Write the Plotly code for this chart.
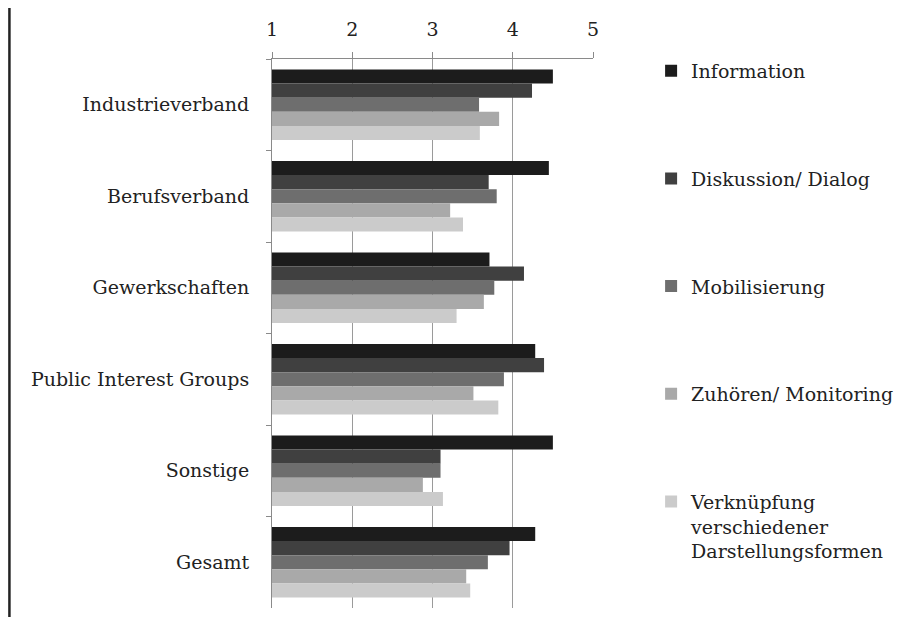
import plotly.graph_objects as go

categories = ["Industrieverband", "Berufsverband", "Gewerkschaften",
              "Public Interest Groups", "Sonstige", "Gesamt"]
series_names = ["Information", "Diskussion/ Dialog", "Mobilisierung",
                "Zuhören/ Monitoring",
                "Verknüpfung<br>verschiedener<br>Darstellungsformen"]
information = [4.50, 4.45, 3.71, 4.28, 4.50, 4.28]
diskussion = [4.24, 3.70, 4.14, 4.39, 3.10, 3.96]
mobilisierung = [3.58, 3.80, 3.77, 3.89, 3.10, 3.69]
zuhoeren = [3.83, 3.22, 3.64, 3.51, 2.88, 3.42]
verknuepfung = [3.59, 3.38, 3.30, 3.82, 3.13, 3.47]
x_ticks = [1, 2, 3, 4, 5]

values = [information, diskussion, mobilisierung, zuhoeren, verknuepfung]
colors = ["#1c1c1c", "#404040", "#6e6e6e", "#a9a9a9", "#cbcbcb"]

FONT = "DejaVu Serif"
fig = go.Figure()
for i, (name, vals, col) in enumerate(zip(series_names, values, colors)):
    fig.add_trace(go.Bar(
        y=categories, x=[v - 1 for v in vals], base=1, name=name,
        orientation="h", marker=dict(color=col, line=dict(width=0)),
        legendgroup=str(i),
    ))

fig.update_layout(
    width=910, height=609,
    margin=dict(l=264, r=325, t=51, b=9),
    paper_bgcolor="white", plot_bgcolor="white",
    barmode="group", bargap=0.23, bargroupgap=0,
    font=dict(family=FONT, size=19, color="#222222"),
    xaxis=dict(
        side="top", range=[1, 5], tickvals=x_ticks,
        showgrid=True, gridcolor="#9a9a9a", gridwidth=1,
        showline=True, linecolor="#8a8a8a", linewidth=1,
        ticks="outside", ticklen=6, tickcolor="#8a8a8a",
        zeroline=False, ticklabelstandoff=8,
    ),
    yaxis=dict(
        autorange="reversed", tickson="boundaries",
        ticks="outside", ticklen=5, tickcolor="#8a8a8a",
        showline=True, linecolor="#8a8a8a", linewidth=1,
        showgrid=False, ticklabelstandoff=18,
    ),
    legend=dict(
        x=1.181, xanchor="left", y=1.013, yanchor="top",
        traceorder="grouped", tracegroupgap=80, valign="top",
        font=dict(family=FONT, size=19, color="#222222"),
        bgcolor="rgba(0,0,0,0)", maxheight=600,
    ),
    shapes=[dict(type="line", xref="paper", yref="paper",
                 x0=-0.818, x1=-0.818, y0=-0.02, y1=1.1,
                 line=dict(color="#222222", width=2.5))],
)

fig.write_html("out.html")
